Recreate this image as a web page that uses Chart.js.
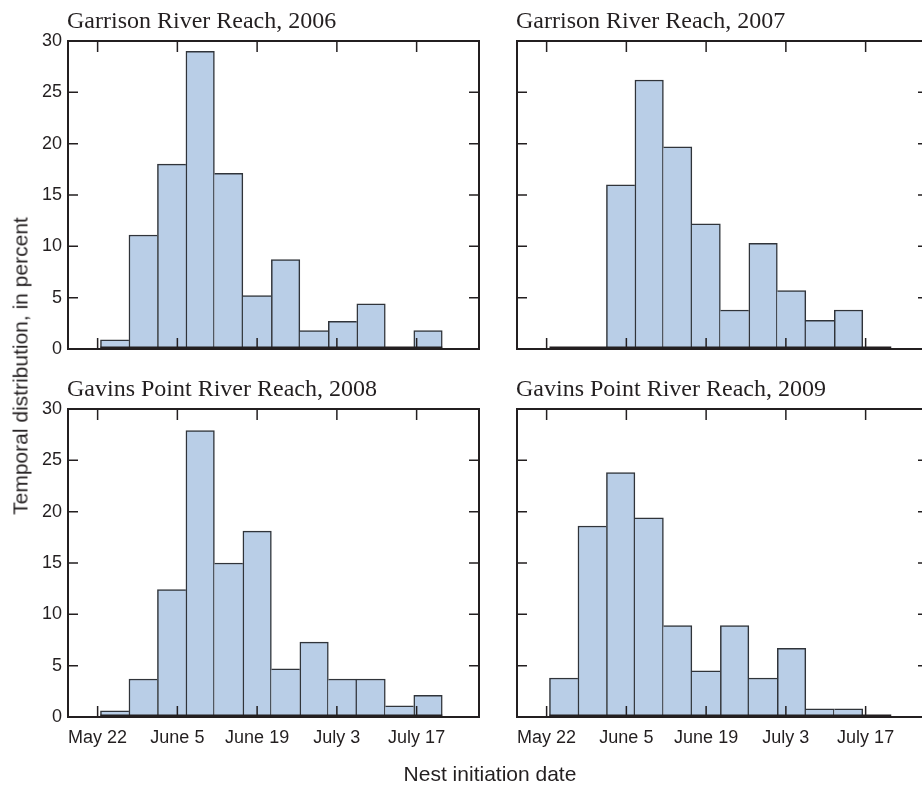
<!DOCTYPE html>
<html>
<head>
<meta charset="utf-8">
<title>Nest initiation dates</title>
<script src="https://cdn.jsdelivr.net/npm/chart.js@4.4.1/dist/chart.umd.min.js"></script>
<style>
  html, body { margin: 0; padding: 0; background: #fff; }
  #figure {
    position: relative;
    width: 922px;
    height: 785px;
    overflow: hidden;
    font-family: "Liberation Sans", Arial, sans-serif;
    color: #231f20;
  }
  #figure canvas { position: absolute; }
  #yTitle {
    position: absolute;
    left: 19.5px;
    top: 366px;
    transform: translate(-50%, -50%) rotate(-90deg);
    white-space: nowrap;
    font-size: 21px;
    line-height: 21px;
  }
  #xTitle {
    position: absolute;
    left: 490px;
    top: 763px;
    transform: translateX(-50%);
    white-space: nowrap;
    font-size: 21px;
    line-height: 21px;
  }
</style>
</head>
<body>
<div id="figure">
  <canvas id="p2006" width="490" height="380" style="left:0px;top:0px"></canvas>
  <canvas id="p2007" width="480" height="380" style="left:460px;top:0px"></canvas>
  <canvas id="p2008" width="490" height="425" style="left:0px;top:360px"></canvas>
  <canvas id="p2009" width="480" height="425" style="left:460px;top:360px"></canvas>
  <div id="yTitle">Temporal distribution, in percent</div>
  <div id="xTitle">Nest initiation date</div>
</div>

<script>
// 5-day bins, centre given as days after May 22
const binCenterDays = [3, 8, 13, 18, 23, 28, 33, 38, 43, 48, 53, 58];
const binWidthDays = 5;

// percent of nests started in each bin
const garrison2006 = [0.9, 11.1, 18.0, 29.0, 17.1, 5.2, 8.7, 1.8, 2.7, 4.4, 0, 1.8];
const garrison2007 = [0, 0, 16.0, 26.2, 19.7, 12.2, 3.8, 10.3, 5.7, 2.8, 3.8, 0];
const gavins2008 = [0.6, 3.7, 12.4, 27.9, 15.0, 18.1, 4.7, 7.3, 3.7, 3.7, 1.1, 2.1];
const gavins2009 = [3.8, 18.6, 23.8, 19.4, 8.9, 4.5, 8.9, 3.8, 6.7, 0.8, 0.8, 0];

const panelTitles = [
    "Garrison River Reach, 2006",
    "Garrison River Reach, 2007",
    "Gavins Point River Reach, 2008",
    "Gavins Point River Reach, 2009",
];

const xTickDays = [0, 14, 28, 42, 56];
const xTickLabels = ["May 22", "June 5", "June 19", "July 3", "July 17"];
const yTicks = [0, 5, 10, 15, 20, 25, 30];

const inkColor = "#231f20";
const barFill = "#b9cee7";
const barEdge = "#30343a";
const tickLen = 11;

// Frame, inward ticks, zero line and panel title
const panelFrame = {
    id: "panelFrame",
    afterDatasetsDraw(chart, args, opts) {
        const { ctx, chartArea: a } = chart;
        const x = chart.scales.x;
        const y = chart.scales.y;
        ctx.save();
        ctx.strokeStyle = inkColor;

        // histogram baseline across the binned range
        const x0 = x.getPixelForValue(binCenterDays[0] - binWidthDays / 2);
        const x1 = x.getPixelForValue(binCenterDays[binCenterDays.length - 1] + binWidthDays / 2);
        ctx.lineWidth = 1.5;
        ctx.beginPath();
        ctx.moveTo(x0, a.bottom - 1.75);
        ctx.lineTo(x1, a.bottom - 1.75);
        ctx.stroke();

        ctx.lineWidth = 1.5;
        ctx.beginPath();
        xTickDays.forEach((d) => {
            const px = x.getPixelForValue(d);
            ctx.moveTo(px, a.top);
            ctx.lineTo(px, a.top + tickLen);
            ctx.moveTo(px, a.bottom);
            ctx.lineTo(px, a.bottom - tickLen);
        });
        yTicks.forEach((v) => {
            const py = y.getPixelForValue(v);
            ctx.moveTo(a.left, py);
            ctx.lineTo(a.left + tickLen - 1, py);
            ctx.moveTo(a.right, py);
            ctx.lineTo(a.right - tickLen + 1, py);
        });
        ctx.stroke();

        ctx.lineWidth = 2;
        ctx.strokeRect(a.left, a.top, a.right - a.left, a.bottom - a.top);

        ctx.font = '24px "Liberation Serif", "Times New Roman", serif';
        ctx.fillStyle = inkColor;
        ctx.textAlign = "left";
        ctx.textBaseline = "alphabetic";
        ctx.fillText(opts.title, a.left - 1, a.top - 13);
        ctx.restore();
    },
};

// shared edge between two bars is outlined once, by the taller bar
function barBorder(context) {
    const values = context.dataset.data;
    const i = context.dataIndex;
    const cur = values[i].y;
    if (!cur) {
        return 0;
    }
    const prev = i > 0 ? values[i - 1].y : 0;
    const next = i < values.length - 1 ? values[i + 1].y : 0;
    return {
        top: 1.5,
        left: prev < cur ? 1.5 : 0,
        right: next <= cur ? 1.5 : 0,
        bottom: 0,
    };
}

function createPanel(canvasId, title, values, showX, showY, padding) {
    const ctx = document.getElementById(canvasId).getContext("2d");
    return new Chart(ctx, {
        type: "bar",
        data: {
            datasets: [
                {
                    data: binCenterDays.map((d, i) => ({ x: d, y: values[i] })),
                    backgroundColor: barFill,
                    borderColor: barEdge,
                    borderWidth: barBorder,
                    borderSkipped: false,
                    barPercentage: 1,
                    categoryPercentage: 1,
                },
            ],
        },
        options: {
            responsive: false,
            animation: false,
            devicePixelRatio: 1,
            layout: { padding: padding },
            plugins: {
                legend: { display: false },
                tooltip: { enabled: false },
                panelFrame: { title: title },
            },
            scales: {
                x: {
                    type: "linear",
                    min: -5.2,
                    max: 66.95,
                    offset: false,
                    display: showX,
                    grid: { display: false, drawTicks: false, offset: false },
                    border: { display: false },
                    afterBuildTicks: (scale) => {
                        scale.ticks = xTickDays.map((v) => ({ value: v }));
                    },
                    afterFit: (scale) => {
                        scale.height = showX ? 68 : 0;
                    },
                    ticks: {
                        autoSkip: false,
                        maxRotation: 0,
                        padding: 10,
                        color: inkColor,
                        font: { family: '"Liberation Sans", Arial, sans-serif', size: 18 },
                        callback: (value, index) => xTickLabels[index],
                    },
                },
                y: {
                    min: 0,
                    max: 30,
                    display: showY,
                    grid: { display: false, drawTicks: false },
                    border: { display: false },
                    afterBuildTicks: (scale) => {
                        scale.ticks = yTicks.map((v) => ({ value: v }));
                    },
                    afterFit: (scale) => {
                        scale.width = showY ? 68 : 0;
                    },
                    ticks: {
                        padding: 6,
                        color: inkColor,
                        font: { family: '"Liberation Sans", Arial, sans-serif', size: 18 },
                    },
                },
            },
        },
        plugins: [panelFrame],
    });
}

createPanel("p2006", panelTitles[0], garrison2006, false, true, { top: 41, right: 11, bottom: 31, left: 0 });
createPanel("p2007", panelTitles[1], garrison2007, false, false, { top: 41, right: 12, bottom: 31, left: 57 });
createPanel("p2008", panelTitles[2], gavins2008, true, true, { top: 49, right: 11, bottom: 0, left: 0 });
createPanel("p2009", panelTitles[3], gavins2009, true, false, { top: 49, right: 12, bottom: 0, left: 57 });
</script>
</body>
</html>
